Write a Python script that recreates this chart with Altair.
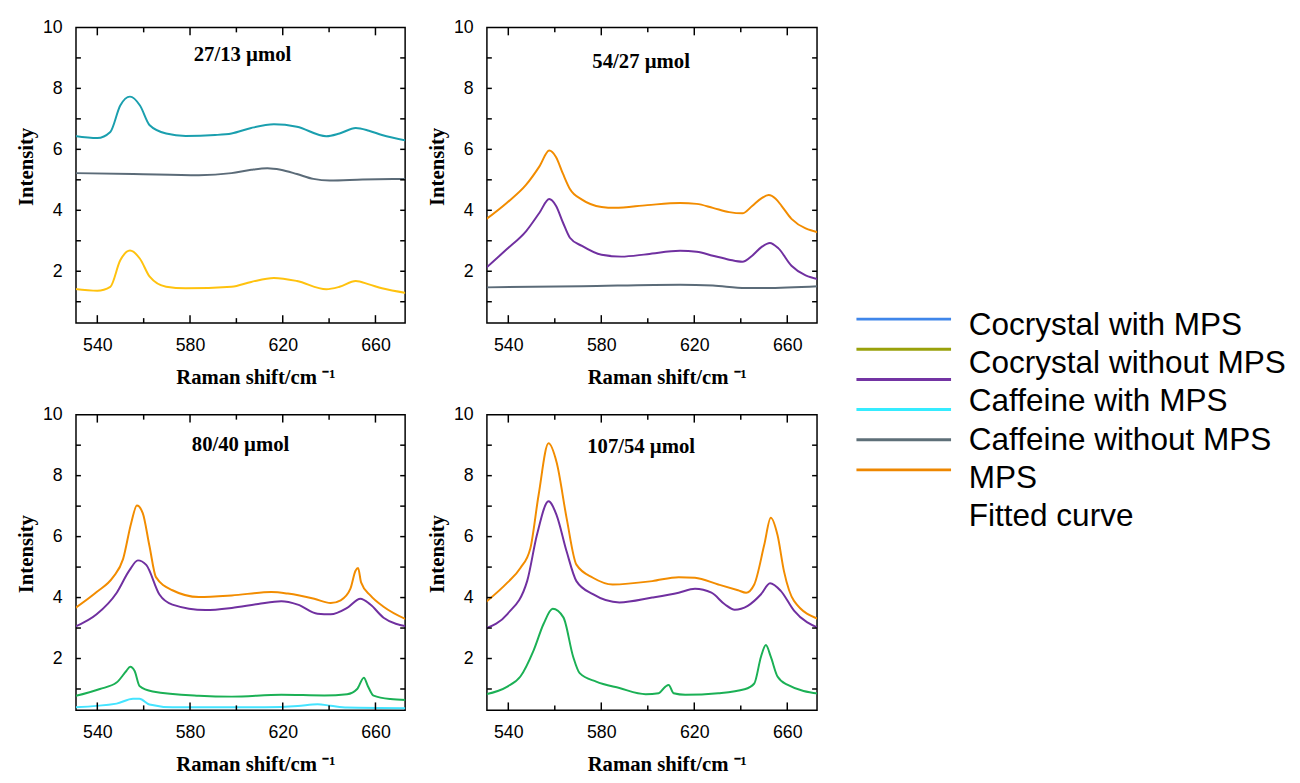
import altair as alt
import pandas as pd

# ---------------- axes ----------------
X_DOMAIN = [530.8, 672.8]
Y_DOMAIN = [0.3, 10]
X_LABELS = [540, 580, 620, 660]
X_MAJOR_TICKS = [540, 580, 620, 660]
X_MINOR_TICKS = [560, 600, 640]
Y_LABELS = [2, 4, 6, 8, 10]
Y_TICKS = [1, 2, 3, 4, 5, 6, 7, 8, 9]

# ---------------- curve colours ----------------
CURVE_NAMES = ["teal", "slate", "gold", "orange", "purple", "green", "cyan"]
CURVE_COLORS = ["#1a9fae", "#5b6b78", "#ffc20e", "#f28c00", "#7030a0", "#1bb055", "#45e4ff"]

# ---------------- panel 1 : 27/13 µmol ----------------
p1_teal_x = [530, 540, 545.6, 549.9, 554.1, 558.4, 562.6, 569.7, 578.1, 590.8, 597.9, 606.4, 616.2, 626.1, 638.8, 644.5, 651.5, 657.2, 662.8, 674]
p1_teal_y = [6.44, 6.37, 6.57, 7.44, 7.73, 7.44, 6.79, 6.52, 6.44, 6.47, 6.52, 6.70, 6.82, 6.74, 6.43, 6.52, 6.70, 6.61, 6.47, 6.28]
p1_slate_x = [530, 555.5, 583.8, 597.9, 606.4, 613.4, 619.1, 626.1, 633.2, 640.3, 654.4, 674]
p1_slate_y = [5.22, 5.19, 5.15, 5.22, 5.33, 5.38, 5.33, 5.19, 5.03, 4.98, 5.01, 5.03]
p1_gold_x = [530, 540, 545.6, 549.9, 554.1, 558.4, 562.6, 569.7, 578.1, 597.9, 606.4, 616.2, 626.1, 638.8, 644.5, 651.5, 657.2, 662.8, 674]
p1_gold_y = [1.42, 1.36, 1.49, 2.36, 2.68, 2.41, 1.82, 1.49, 1.44, 1.49, 1.65, 1.78, 1.68, 1.41, 1.49, 1.68, 1.57, 1.44, 1.28]

# ---------------- panel 2 : 54/27 µmol ----------------
p2_orange_x = [530, 539.3, 547.7, 553.4, 557.6, 560.5, 563.5, 566.5, 571.7, 580.1, 585.8, 599.8, 613.9, 621.0, 628.0, 635.0, 640.7, 644.9, 649.0, 652.0, 655.0, 657.6, 661.8, 674]
p2_orange_y = [3.68, 4.24, 4.84, 5.44, 5.96, 5.75, 5.20, 4.70, 4.35, 4.11, 4.08, 4.17, 4.24, 4.21, 4.08, 3.94, 3.90, 4.14, 4.40, 4.50, 4.38, 4.14, 3.72, 3.26]
p2_purple_x = [530, 539.3, 547.7, 553.4, 557.6, 560.5, 563.5, 566.5, 571.7, 580.1, 588.6, 599.8, 613.9, 621.0, 628.0, 635.0, 640.7, 644.9, 649.0, 652.5, 656.2, 661.8, 674]
p2_purple_y = [2.08, 2.72, 3.32, 3.92, 4.37, 4.15, 3.60, 3.10, 2.83, 2.54, 2.48, 2.56, 2.67, 2.64, 2.51, 2.38, 2.31, 2.51, 2.80, 2.93, 2.75, 2.18, 1.72]
p2_slate_x = [530, 571.7, 613.9, 628.0, 642.1, 650.5, 674]
p2_slate_y = [1.47, 1.51, 1.56, 1.53, 1.45, 1.45, 1.51]

# ---------------- panel 3 : 80/40 µmol ----------------
p3_orange_x = [530, 539.7, 546.8, 551.1, 554.6, 557.1, 559.6, 562.5, 565.3, 572.4, 583.8, 598.0, 615.1, 622.2, 633.6, 640.7, 645.0, 649.2, 651.4, 652.5, 653.8, 657.8, 663.5, 674]
p3_orange_y = [3.63, 4.18, 4.67, 5.26, 6.44, 7.02, 6.77, 5.69, 4.67, 4.24, 4.02, 4.07, 4.18, 4.13, 3.96, 3.82, 3.91, 4.29, 4.88, 4.97, 4.50, 4.07, 3.70, 3.26]
p3_purple_x = [530, 539.7, 548.3, 553.9, 557.5, 561.1, 566.8, 572.4, 586.7, 598.0, 609.4, 619.4, 626.5, 635.0, 640.7, 647.8, 653.5, 657.8, 663.5, 674]
p3_purple_y = [3.03, 3.45, 4.15, 4.90, 5.22, 5.07, 4.10, 3.77, 3.59, 3.66, 3.79, 3.88, 3.77, 3.47, 3.45, 3.66, 3.96, 3.77, 3.34, 3.05]
p3_green_x = [530, 541.1, 548.3, 552.5, 554.2, 556.1, 558.2, 563.9, 583.8, 598.0, 619.4, 637.9, 647.8, 652.1, 655.0, 656.7, 659.2, 666.4, 674]
p3_green_y = [0.76, 1.00, 1.21, 1.59, 1.73, 1.59, 1.10, 0.92, 0.78, 0.75, 0.81, 0.79, 0.83, 1.00, 1.37, 1.10, 0.78, 0.67, 0.64]
p3_cyan_x = [530, 548.3, 555.4, 558.2, 562.5, 572.4, 612.3, 626.5, 635.0, 640.7, 647.8, 674]
p3_cyan_y = [0.40, 0.52, 0.68, 0.68, 0.49, 0.40, 0.40, 0.44, 0.50, 0.45, 0.39, 0.37]

# ---------------- panel 4 : 107/54 µmol ----------------
p4_orange_x = [530, 539.6, 545.2, 549.5, 553.0, 557.3, 560.8, 565.1, 569.3, 576.4, 584.9, 601.9, 613.3, 620.3, 630.3, 638.8, 642.3, 645.8, 650.1, 652.9, 655.8, 658.6, 662.9, 674]
p4_orange_y = [3.83, 4.49, 4.97, 5.62, 7.35, 9.06, 8.43, 6.60, 5.08, 4.65, 4.43, 4.54, 4.67, 4.65, 4.43, 4.24, 4.16, 4.43, 5.73, 6.62, 6.05, 4.86, 3.89, 3.28]
p4_purple_x = [530, 539.6, 548.1, 552.3, 557.3, 560.8, 565.1, 569.3, 576.4, 587.8, 601.9, 613.3, 620.3, 627.4, 633.1, 637.4, 643.0, 648.7, 652.6, 657.2, 662.9, 674]
p4_purple_y = [2.98, 3.46, 4.54, 6.05, 7.16, 6.70, 5.51, 4.54, 4.11, 3.84, 4.00, 4.16, 4.29, 4.16, 3.78, 3.60, 3.73, 4.11, 4.47, 4.22, 3.57, 2.98]
p4_green_x = [530, 539.6, 545.2, 550.9, 555.2, 559.1, 563.7, 567.9, 570.7, 577.8, 587.8, 599.1, 604.7, 607.6, 609.0, 611.1, 616.1, 630.3, 641.6, 645.8, 648.7, 650.8, 652.9, 655.8, 660.0, 674]
p4_green_y = [0.82, 1.08, 1.41, 2.27, 3.14, 3.63, 3.35, 2.06, 1.52, 1.24, 1.03, 0.83, 0.86, 1.08, 1.13, 0.86, 0.81, 0.86, 0.99, 1.18, 2.06, 2.44, 2.06, 1.41, 1.14, 0.84]

# ---------------- legend ----------------
LEGEND_TEXTS = ["Cocrystal with MPS", "Cocrystal without MPS", "Caffeine with MPS",
                "Caffeine without MPS", "MPS", "Fitted curve"]
LEGEND_LINE_KEYS = ["blue", "olive", "violet", "aqua", "grey", "amber"]
LEGEND_LINE_COLORS = ["#3f86ea", "#99a10a", "#7334a3", "#35ecff", "#5e6f78", "#ee8700"]

SANS = "Liberation Sans"
SERIF = "Liberation Serif"


def panel(title, curves, w, h, title_dx, title_dy):
    df = pd.concat(
        [pd.DataFrame({"curve": name, "shift": xs, "intensity": ys}) for name, xs, ys in curves],
        ignore_index=True,
    )
    xs = alt.Scale(domain=X_DOMAIN, nice=False, zero=False)
    ys = alt.Scale(domain=Y_DOMAIN, nice=False, zero=False)
    x_axis = alt.Axis(
        values=X_LABELS, title="Raman shift/cm \u207b\u00b9", domain=False, ticks=False, grid=False,
        labelFont=SANS, labelFontSize=18, labelColor="black", labelPadding=14,
        labelFlush=False, labelOverlap=False,
        titleFont=SERIF, titleFontSize=21, titleFontWeight="bold", titleColor="black",
        titlePadding=12, titleX=w / 2 + 15,
    )
    y_axis = alt.Axis(
        values=Y_LABELS, title="Intensity", domain=False, ticks=False, grid=False,
        labelFont=SANS, labelFontSize=18, labelColor="black", labelPadding=14,
        labelFlush=False, labelOverlap=False,
        titleFont=SERIF, titleFontSize=21, titleFontWeight="bold", titleColor="black",
        titlePadding=6, titleY=h / 2 - 9,
    )
    lines = alt.Chart(df).mark_line(strokeWidth=2, interpolate="monotone", clip=True).encode(
        x=alt.X("shift:Q", scale=xs, axis=x_axis),
        y=alt.Y("intensity:Q", scale=ys, axis=y_axis),
        color=alt.Color("curve:N", scale=alt.Scale(domain=CURVE_NAMES, range=CURVE_COLORS), legend=None),
        detail="curve:N",
    )
    xmaj = pd.DataFrame({"shift": X_MAJOR_TICKS})
    xmin = pd.DataFrame({"shift": X_MINOR_TICKS})
    yt = pd.DataFrame({"intensity": Y_TICKS})
    rule = dict(color="black", strokeWidth=1.5)
    layers = [lines]
    for d, L in ((xmaj, 8), (xmin, 5)):
        layers.append(alt.Chart(d).mark_rule(**rule).encode(
            x=alt.X("shift:Q", scale=xs), y=alt.value(h), y2=alt.value(h - L)))
        layers.append(alt.Chart(d).mark_rule(**rule).encode(
            x=alt.X("shift:Q", scale=xs), y=alt.value(0), y2=alt.value(L)))
    layers.append(alt.Chart(yt).mark_rule(**rule).encode(
        y=alt.Y("intensity:Q", scale=ys), x=alt.value(0), x2=alt.value(5)))
    layers.append(alt.Chart(yt).mark_rule(**rule).encode(
        y=alt.Y("intensity:Q", scale=ys), x=alt.value(w), x2=alt.value(w - 5)))
    return alt.layer(*layers).properties(
        width=w, height=h,
        title=alt.TitleParams(
            text=title, font=SERIF, fontSize=21, fontWeight="bold", color="black",
            anchor="middle", offset=0, dx=title_dx, dy=title_dy,
        ),
    )


p1 = panel("27/13 \u00b5mol", [("teal", p1_teal_x, p1_teal_y), ("slate", p1_slate_x, p1_slate_y),
                               ("gold", p1_gold_x, p1_gold_y)], 334, 300, 2, 47)
p2 = panel("54/27 \u00b5mol", [("orange", p2_orange_x, p2_orange_y), ("purple", p2_purple_x, p2_purple_y),
                               ("slate", p2_slate_x, p2_slate_y)], 335, 300, -11, 54)
p3 = panel("80/40 \u00b5mol", [("orange", p3_orange_x, p3_orange_y), ("purple", p3_purple_x, p3_purple_y),
                               ("green", p3_green_x, p3_green_y), ("cyan", p3_cyan_x, p3_cyan_y)], 334, 300, 0, 50)
p4 = panel("107/54 \u00b5mol", [("orange", p4_orange_x, p4_orange_y), ("purple", p4_purple_x, p4_purple_y),
                                ("green", p4_green_x, p4_green_y)], 335, 300, -11, 52)

leg_lines_df = pd.DataFrame({"key": LEGEND_LINE_KEYS})
leg_text_df = pd.DataFrame({"label": LEGEND_TEXTS})
leg_lines = alt.Chart(leg_lines_df).mark_rule(strokeWidth=3).encode(
    y=alt.Y("key:N", scale=alt.Scale(type="point", domain=LEGEND_LINE_KEYS, range=[296, 449], padding=0), axis=None),
    x=alt.value(-43), x2=alt.value(53),
    color=alt.Color("key:N", scale=alt.Scale(domain=LEGEND_LINE_KEYS, range=LEGEND_LINE_COLORS), legend=None),
)
leg_texts = alt.Chart(leg_text_df).mark_text(align="left", baseline="middle", font=SANS, fontSize=32, color="black").encode(
    y=alt.Y("label:N", scale=alt.Scale(type="point", domain=LEGEND_TEXTS, range=[302, 496], padding=0), axis=None),
    x=alt.value(71),
    text="label:N",
)
legend = alt.layer(leg_lines, leg_texts).resolve_scale(y="independent", color="independent").properties(
    width=320, height=300, view=alt.ViewBackground(stroke="transparent"),
)

chart = alt.concat(
    p1, p2, legend, p3, p4,
    columns=3, spacing={"row": 93, "column": 83}, bounds="flush", align="each",
).properties(
    padding={"left": 7, "top": 4, "right": 5, "bottom": 0},
    background="white",
).configure_view(stroke="black", strokeWidth=1.5)

chart.save("out.html", embed_options={"renderer": "svg", "actions": False})
